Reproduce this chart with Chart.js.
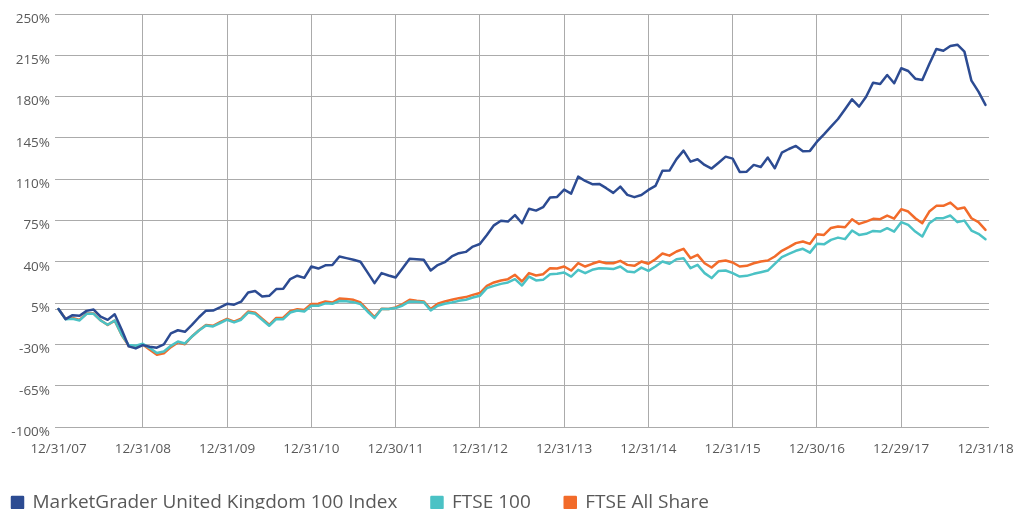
<!DOCTYPE html>
<html>
<head>
<meta charset="utf-8">
<script src="https://cdn.jsdelivr.net/npm/chart.js@4/dist/chart.umd.min.js"></script>
<style>
  html, body { margin: 0; padding: 0; background: #fff; overflow: hidden; }
  #wrap { position: relative; width: 1014px; height: 522px; }
</style>
</head>
<body>
<div id="wrap"><canvas id="c"></canvas></div>
<script>
// Tick labels for the x axis (one per year, Dec 2007 .. Dec 2018)
const tickLabels = ['12/31/07','12/31/08','12/31/09','12/31/10','12/30/11','12/31/12','12/31/13','12/31/14','12/31/15','12/30/16','12/29/17','12/31/18'];
const yTicks = [-100, -65, -30, 5, 40, 75, 110, 145, 180, 215, 250];
const seriesNames = ['MarketGrader United Kingdom 100 Index', 'FTSE 100', 'FTSE All Share'];

// Monthly cumulative returns (%), Dec 2007 .. Dec 2018 (133 months)
const marketGrader = [
  0, -8.6, -5.2, -5.8, -1.6, -0.5, -6.5, -9.2, -4.5, -17.6, -31.7, -33.4,
  -30.6, -32, -32.8, -30, -20.7, -18, -19.3, -13.5, -7, -1.4, -1.3, 1.3,
  4.4, 3.7, 6.2, 14, 15.3, 10.6, 11.2, 16.9, 17.2, 25.4, 28.2, 26.4,
  36, 34.3, 37, 37.3, 44.5, 43.1, 41.7, 40, 31, 21.9, 30.4, 28.4,
  26.7, 34.6, 42.5, 42.2, 41.7, 32.6, 37.2, 39.7, 44.5, 47.3, 48.4, 52.9,
  55.1, 62.8, 70.9, 74.8, 74.1, 79.5, 72.7, 85, 83.4, 86.3, 94.5, 95,
  101.2, 97.8, 112.2, 108.5, 105.8, 106, 102.4, 98.4, 103.7, 96.7, 94.8, 96.6,
  100.9, 104.3, 117.2, 117.3, 127, 134.2, 124.9, 126.9, 122.1, 119, 124, 129.1,
  127.4, 116.2, 116.4, 122.1, 120.4, 128.3, 119.3, 132.5, 135.6, 138.2, 133.7, 134,
  141.8, 148, 154.5, 161, 169.2, 177.7, 171.5, 179.9, 191.8, 190.7, 198.3, 191.3,
  204, 201.7, 195.2, 194.1, 207.6, 220.4, 218.9, 222.9, 224, 218.1, 193.5, 184.2,
  173
];
const ftse100 = [
  0, -8.6, -8.3, -9.7, -4.1, -4.1, -9.7, -13.4, -9.7, -21.8, -30.6, -31.2,
  -29.5, -33.1, -37.3, -36, -31.2, -27.5, -29.2, -23.3, -18.2, -14, -14.8, -11.9,
  -9.1, -11.4, -9.1, -3, -4.1, -9.1, -14.2, -8.6, -8.6, -3, -1.3, -2.1,
  2.7, 2.7, 4.8, 4.4, 6.8, 6.5, 5.8, 4.1, -2.1, -7.7, 0, 0,
  0.8, 3, 6.4, 6.1, 5.8, -1.3, 2.7, 4.4, 5.5, 6.9, 7.8, 9.7,
  11.2, 17.7, 19.6, 21.3, 22.5, 25.3, 19.9, 27.5, 24.2, 24.7, 29.5, 29.8,
  30.9, 27.5, 33.2, 30.4, 33.2, 34.6, 34.3, 33.8, 36, 31.7, 31.2, 35.1,
  32.3, 36, 40.2, 38.3, 42.2, 43.1, 34.6, 37.4, 30.4, 26.2, 32.3, 32.6,
  30.4, 27.5, 28.1, 29.8, 31.2, 32.6, 38.3, 43.9, 46.7, 49.3, 51, 47.8,
  55.2, 54.8, 58.6, 60.5, 59.2, 66.5, 62.8, 63.7, 66.2, 65.6, 68.5, 65.6,
  73.6, 71.3, 65.6, 61.4, 72.7, 77, 77, 79.2, 73.6, 74.9, 66.5, 63.7,
  59.2
];
const ftseAllShare = [
  0, -8.2, -7.6, -9.2, -3.8, -3.8, -9.6, -13.5, -9.8, -22, -31.3, -32,
  -30, -34.6, -38.8, -37.5, -32.3, -28.3, -29.8, -23.3, -18, -13.6, -14.2, -11.2,
  -8.3, -10.8, -8.2, -2.2, -3.2, -8.2, -13.4, -7.6, -7.4, -1.9, -0.2, -0.9,
  4.2, 4.4, 6.4, 5.5, 8.9, 8.4, 7.8, 5.5, -0.7, -6.9, 0.2, 0,
  1.3, 4.1, 7.8, 6.9, 6.4, 0, 4.4, 6.4, 7.8, 9.2, 10.1, 12,
  13.5, 19.6, 22.5, 24.2, 25.3, 29, 23.3, 30.4, 28.4, 29.5, 34.6, 34.3,
  36, 32.6, 38.8, 36, 38.3, 40.2, 38.8, 38.8, 40.8, 37.4, 36.6, 40.2,
  38.3, 42.2, 47, 45.2, 48.7, 51, 43.1, 45.9, 38.8, 35.2, 40.2, 41.1,
  39.4, 36, 36.6, 38.8, 40.2, 41.1, 44.5, 49.3, 52.4, 55.8, 57.2, 55.2,
  63.4, 62.8, 68.7, 69.9, 69.3, 76.1, 72.1, 74.1, 76.4, 76.1, 79.2, 76.6,
  84.6, 82.6, 76.9, 72.7, 82.6, 87.4, 87.4, 90.2, 84.8, 86, 76.9, 73.6,
  67.1
];

const colors = ['#2c4b92', '#4bc2c5', '#f26b2a'];
const gridColor = '#ababab';
const textColor = '#595959';
const fontFamily = "'Open Sans', 'DejaVu Sans', sans-serif";

const toPoints = arr => arr.map((v, i) => ({ x: i, y: v }));
const lastIdx = marketGrader.length - 1;

const zeroLine = {
  id: 'zeroLine',
  beforeDatasetsDraw(chart) {
    const { ctx, chartArea, scales } = chart;
    const y = Math.round(scales.y.getPixelForValue(0)) + 0.5;
    ctx.save();
    ctx.strokeStyle = gridColor;
    ctx.lineWidth = 1;
    ctx.beginPath();
    ctx.moveTo(chartArea.left, y);
    ctx.lineTo(chartArea.right, y);
    ctx.stroke();
    ctx.restore();
  }
};

new Chart(document.getElementById('c'), {
  type: 'line',
  data: {
    datasets: [
      { label: seriesNames[0], data: toPoints(marketGrader), borderColor: colors[0], backgroundColor: colors[0] },
      { label: seriesNames[1], data: toPoints(ftse100), borderColor: colors[1], backgroundColor: colors[1] },
      { label: seriesNames[2], data: toPoints(ftseAllShare), borderColor: colors[2], backgroundColor: colors[2] }
    ]
  },
  options: {
    responsive: true,
    maintainAspectRatio: false,
    animation: false,
    elements: {
      point: { radius: 0, hoverRadius: 0 },
      line: { borderWidth: 2.5, tension: 0, borderJoinStyle: 'round', borderCapStyle: 'round' }
    },
    layout: { padding: { top: 14, right: 25, bottom: 0, left: -22 } },
    plugins: {
      legend: {
        position: 'bottom',
        align: 'start',
        labels: {
          boxWidth: 11,
          boxHeight: 11,
          padding: 34,
          color: textColor,
          font: { family: fontFamily, size: 19 }
        }
      },
      tooltip: { enabled: false }
    },
    scales: {
      x: {
        type: 'linear',
        min: -0.5,
        max: lastIdx + 0.5,
        afterBuildTicks: scale => {
          scale.ticks = tickLabels.map((_, k) => ({ value: k * 12 }));
        },
        afterFit: scale => { scale.height = 32; scale.paddingLeft = 0; scale.paddingRight = 0; },
        ticks: {
          autoSkip: false,
          maxRotation: 0,
          padding: 14,
          color: textColor,
          font: { family: fontFamily, size: 13.5 },
          callback: (v) => tickLabels[Math.round(v / 12)]
        },
        grid: {
          drawTicks: false,
          color: ctx => (ctx.tick && (ctx.tick.value === 0 || ctx.tick.value === lastIdx)) ? 'rgba(0,0,0,0)' : gridColor,
          lineWidth: 1
        },
        border: { display: false }
      },
      y: {
        min: yTicks[0],
        max: yTicks[yTicks.length - 1],
        afterBuildTicks: scale => {
          scale.ticks = yTicks.map(v => ({ value: v }));
        },
        afterFit: scale => { scale.width = 77; scale.paddingTop = 0; scale.paddingBottom = 0; },
        ticks: {
          padding: 5,
          labelOffset: 5,
          color: textColor,
          font: { family: fontFamily, size: 13.5 },
          callback: v => v + '%'
        },
        grid: { drawTicks: false, color: gridColor, lineWidth: 1 },
        border: { display: false }
      }
    }
  },
  plugins: [zeroLine]
});
</script>
</body>
</html>
